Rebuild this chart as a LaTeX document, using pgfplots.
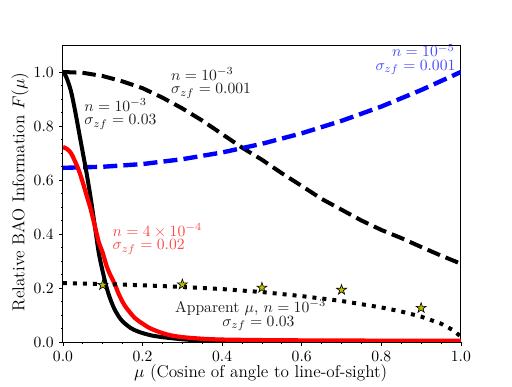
\documentclass[border=0pt]{standalone}
\usepackage{pgfplots}
\pgfplotsset{compat=1.18}
\definecolor{staryel}{rgb}{0.75,0.75,0}
\colorlet{txtred}{red!72}
\colorlet{txtblue}{blue!72}
\colorlet{txtblk}{black!88}

% filled five-pointed star, like matplotlib's '*'
\pgfdeclareplotmark{fstar}{%
  \pgfpathmoveto{\pgfpointpolar{90}{\pgfplotmarksize}}%
  \pgfpathlineto{\pgfpointpolar{126}{0.382\pgfplotmarksize}}%
  \pgfpathlineto{\pgfpointpolar{162}{\pgfplotmarksize}}%
  \pgfpathlineto{\pgfpointpolar{198}{0.382\pgfplotmarksize}}%
  \pgfpathlineto{\pgfpointpolar{234}{\pgfplotmarksize}}%
  \pgfpathlineto{\pgfpointpolar{270}{0.382\pgfplotmarksize}}%
  \pgfpathlineto{\pgfpointpolar{306}{\pgfplotmarksize}}%
  \pgfpathlineto{\pgfpointpolar{342}{0.382\pgfplotmarksize}}%
  \pgfpathlineto{\pgfpointpolar{18}{\pgfplotmarksize}}%
  \pgfpathlineto{\pgfpointpolar{54}{0.382\pgfplotmarksize}}%
  \pgfpathclose
  \pgfusepathqfillstroke
}

\begin{document}
\begin{tikzpicture}
\begin{axis}[
  at={(0,0)}, anchor=south west,
  scale only axis,
  width=254.7pt, height=190.1pt,
  xmin=0, xmax=1, ymin=0, ymax=1.1,
  xtick={0,0.2,0.4,0.6,0.8,1.0},
  ytick={0,0.2,0.4,0.6,0.8,1.0},
  minor tick num=3,
  tick align=outside,
  tick pos=left,
  major tick length=2.4pt,
  minor tick length=1.4pt,
  tick style={black, line width=0.5pt},
  axis line style={black, line width=0.6pt},
  xticklabel style={/pgf/number format/.cd, fixed, fixed zerofill, precision=1},
  yticklabel style={/pgf/number format/.cd, fixed, fixed zerofill, precision=1},
  xlabel={$\mu$ (Cosine of angle to line-of-sight)},
  ylabel={Relative BAO Information $F(\mu)$},
  label style={font=\fontsize{11}{13}\selectfont},
  xlabel style={at={(axis description cs:0.497,-0.104)}, anchor=center},
  ylabel style={at={(axis description cs:-0.108,0.505)}, anchor=center},
]
% n = 1e-3, sigma = 0.001
\addplot[black, line width=2.56pt, dash pattern=on 8.6pt off 3.9pt]
  coordinates {(0,1.000)(0.05,0.997)(0.1,0.985)(0.15,0.965)(0.2,0.940)
  (0.25,0.905)(0.3,0.865)(0.35,0.820)(0.4,0.770)(0.45,0.720)(0.5,0.675)
  (0.55,0.625)(0.6,0.578)(0.65,0.530)(0.7,0.490)(0.75,0.450)(0.8,0.415)
  (0.85,0.385)(0.9,0.352)(0.95,0.320)(1.0,0.290)};
% n = 1e-5, sigma = 0.001
\addplot[blue, line width=2.8pt, dash pattern=on 9pt off 3.9pt]
  coordinates {(0,0.645)(0.1,0.649)(0.2,0.659)(0.3,0.677)(0.4,0.702)
  (0.5,0.734)(0.6,0.773)(0.7,0.819)(0.8,0.872)(0.9,0.933)(1.0,1.000)};
% n = 1e-3, sigma = 0.03
\addplot[black, line width=2.56pt, smooth]
  coordinates {(0,1.000)(0.005,0.990)(0.01,0.975)(0.02,0.930)(0.03,0.860)
  (0.04,0.780)(0.05,0.700)(0.06,0.620)(0.07,0.530)(0.08,0.430)(0.09,0.330)
  (0.1,0.260)(0.11,0.200)(0.12,0.155)(0.13,0.120)(0.14,0.095)(0.15,0.076)
  (0.17,0.052)(0.19,0.038)(0.22,0.025)(0.25,0.018)(0.3,0.010)(0.35,0.005)
  (0.4,0.002)(0.5,0.0005)(0.6,0)(1.0,0)};
% n = 4e-4, sigma = 0.02
\addplot[red, line width=2.7pt, smooth]
  coordinates {(0,0.722)(0.01,0.715)(0.02,0.700)(0.03,0.670)(0.04,0.635)
  (0.05,0.590)(0.06,0.540)(0.07,0.490)(0.08,0.430)(0.09,0.370)(0.1,0.330)
  (0.11,0.280)(0.12,0.245)(0.13,0.215)(0.14,0.178)(0.15,0.148)(0.16,0.125)
  (0.18,0.090)(0.2,0.068)(0.22,0.050)(0.25,0.033)(0.27,0.025)(0.3,0.018)
  (0.35,0.012)(0.4,0.009)(0.5,0.007)(0.6,0.006)(0.8,0.005)(1.0,0.005)};
% apparent mu
\addplot[black, line width=2.56pt, dash pattern=on 2.56pt off 3.84pt]
  coordinates {(0,0.218)(0.1,0.215)(0.2,0.210)(0.3,0.204)(0.4,0.196)
  (0.5,0.185)(0.6,0.170)(0.7,0.152)(0.8,0.128)(0.85,0.113)(0.9,0.094)
  (0.95,0.068)(0.98,0.044)(1.0,0.020)};
\addplot[only marks, mark=fstar, mark size=3.4pt,
  mark options={fill=staryel, draw=black, line width=0.4pt}]
  coordinates {(0.1,0.211)(0.3,0.213)(0.5,0.201)(0.7,0.193)(0.9,0.126)};

\node[txtblk, anchor=base west, inner sep=0] at (axis cs:0.271,0.970) {$n = 10^{-3}$};
\node[txtblk, anchor=base west, inner sep=0] at (axis cs:0.271,0.919) {$\sigma_{zf} = 0.001$};
\node[txtblk, anchor=base west, inner sep=0] at (axis cs:0.053,0.855) {$n = 10^{-3}$};
\node[txtblk, anchor=base west, inner sep=0] at (axis cs:0.053,0.804) {$\sigma_{zf} = 0.03$};
\node[txtblue, anchor=base east, inner sep=0] at (axis cs:0.985,1.056) {$n = 10^{-5}$};
\node[txtblue, anchor=base east, inner sep=0] at (axis cs:0.987,1.005) {$\sigma_{zf} = 0.001$};
\node[txtred, anchor=base west, inner sep=0] at (axis cs:0.124,0.392) {$n = 4\times 10^{-4}$};
\node[txtred, anchor=base west, inner sep=0] at (axis cs:0.124,0.341) {$\sigma_{zf} = 0.02$};
\node[txtblk, anchor=base west, inner sep=0] at (axis cs:0.281,0.110) {Apparent $\mu$, $n = 10^{-3}$};
\node[txtblk, anchor=base west, inner sep=0] at (axis cs:0.400,0.057) {$\sigma_{zf} = 0.03$};
\end{axis}
\path (-40.3pt,-26.9pt) rectangle (287.4pt,218.9pt);
\end{tikzpicture}
\end{document}
